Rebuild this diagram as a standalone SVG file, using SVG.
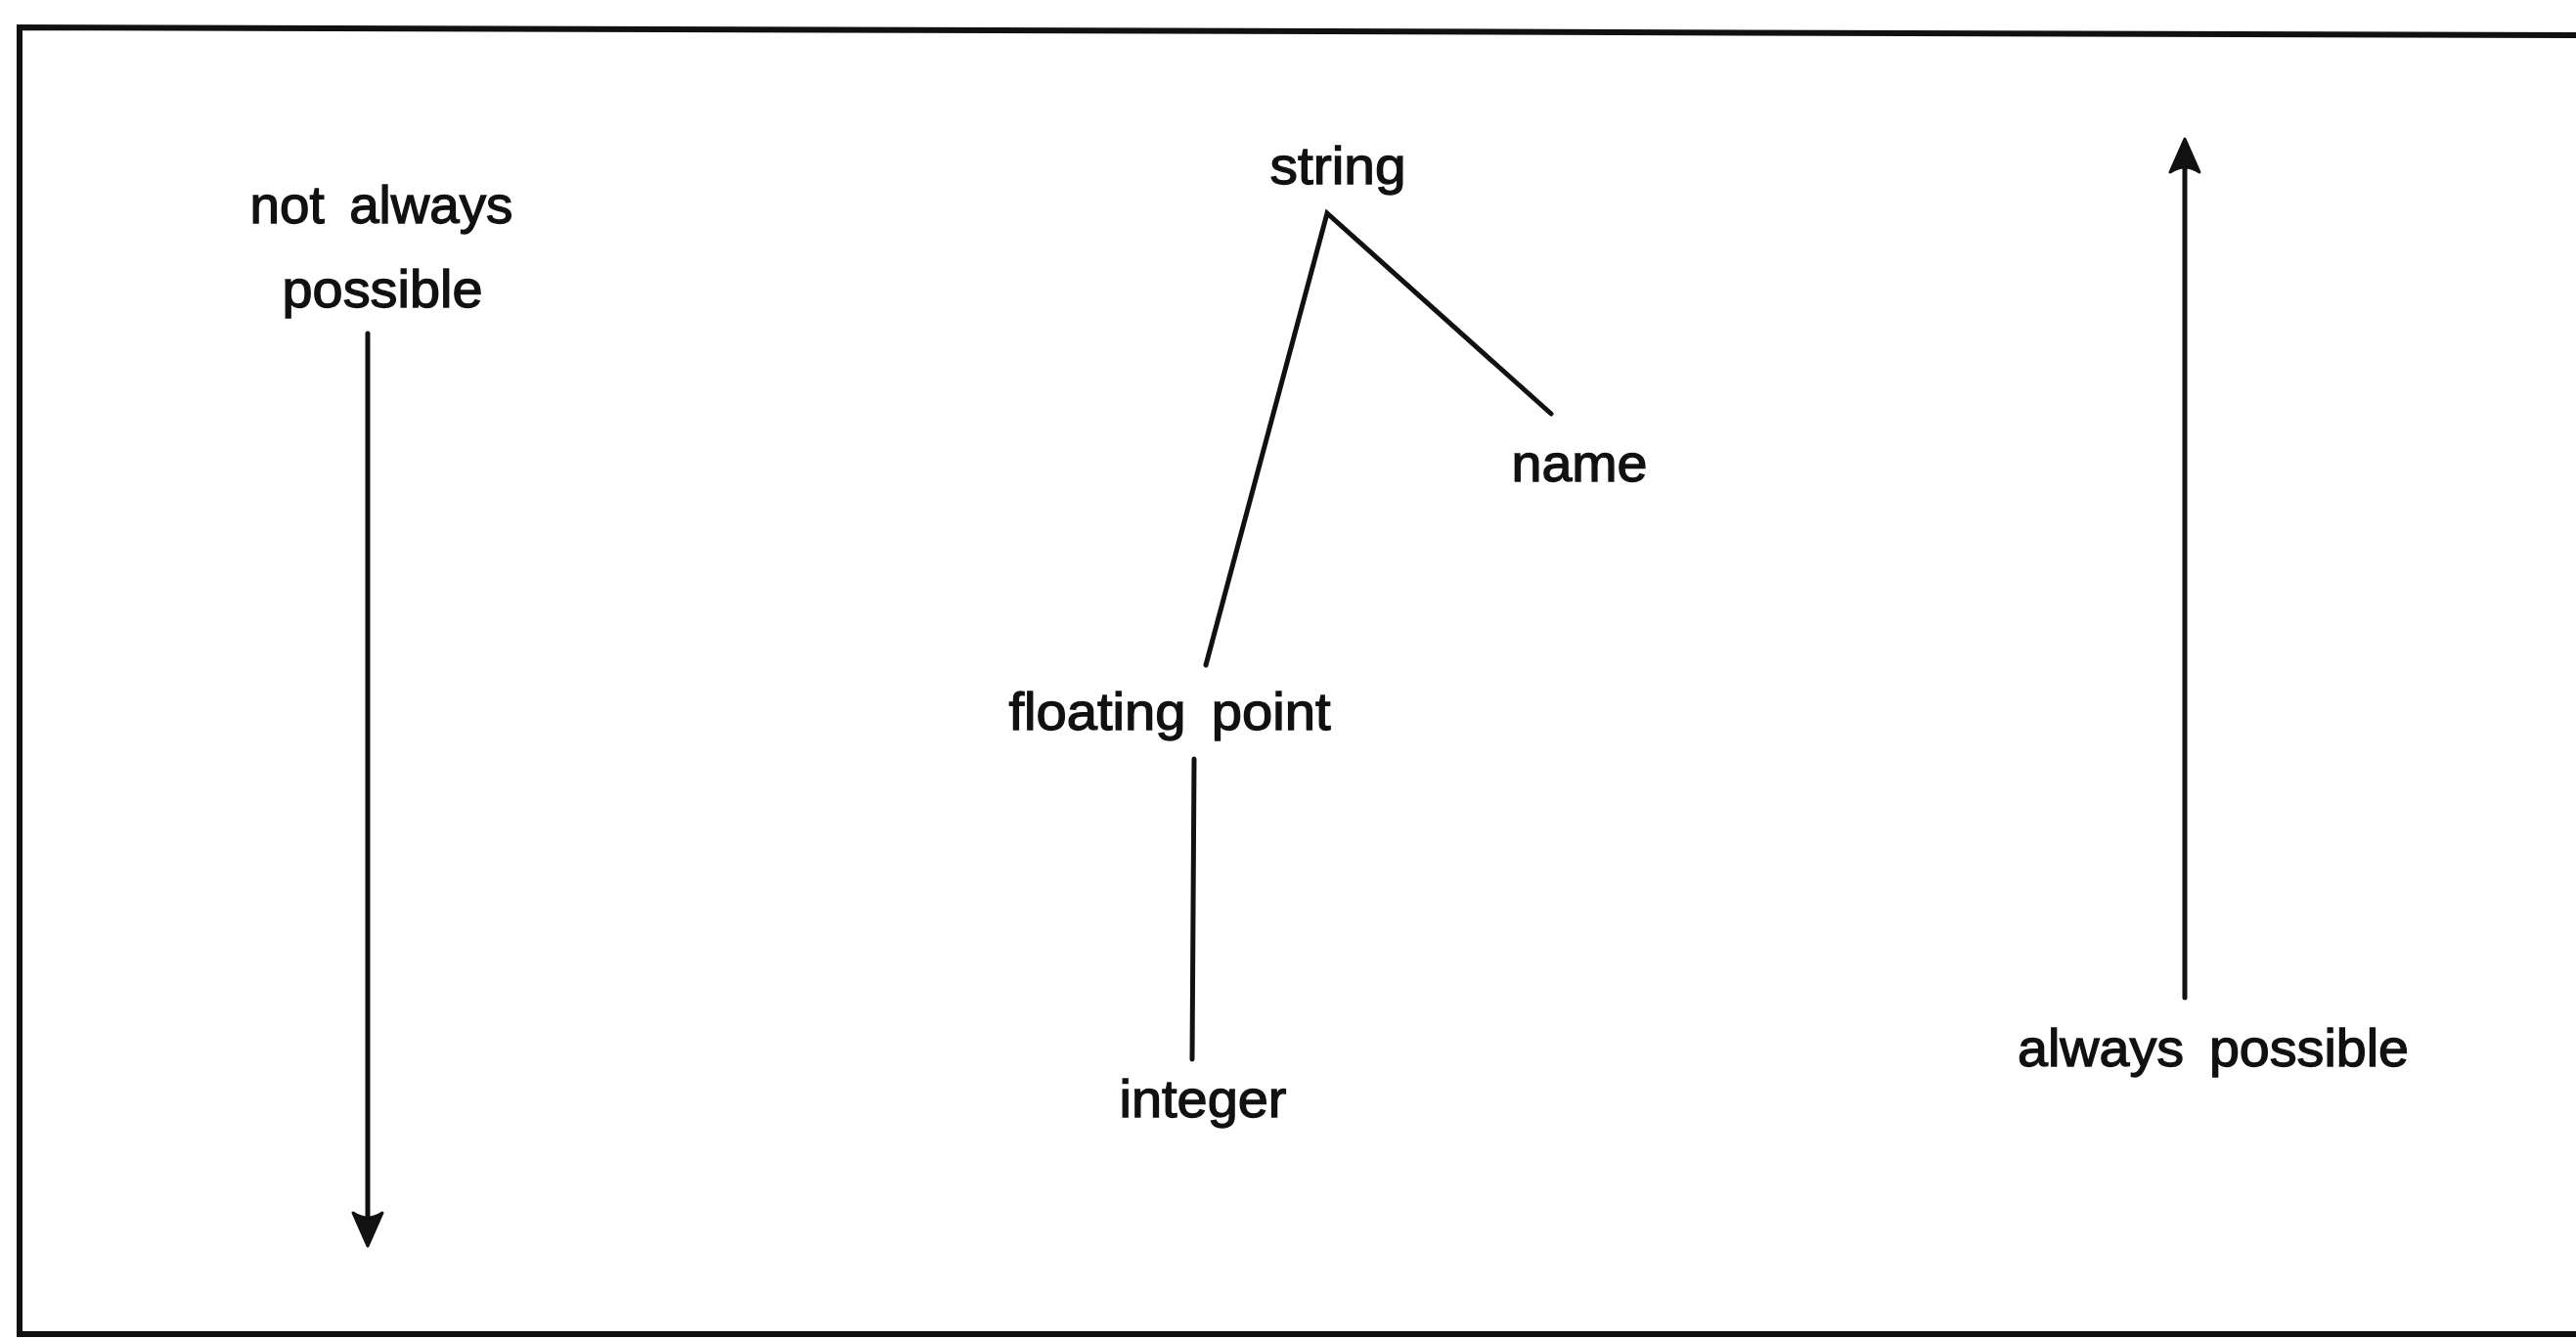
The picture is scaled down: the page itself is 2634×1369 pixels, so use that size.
<svg xmlns="http://www.w3.org/2000/svg" width="2634" height="1369" viewBox="0 0 2634 1369">
<style>
.t{font-family:"Liberation Sans",Arial,Helvetica,sans-serif;font-size:53px;fill:#111;stroke:#111;stroke-width:1.3;text-anchor:middle;word-spacing:10px}
.ln{stroke:#111;stroke-width:5;fill:none;stroke-linecap:round;stroke-linejoin:miter}
.fr{stroke:#111;stroke-width:6;fill:none}
.ah{fill:#111;stroke:#111;stroke-width:3;stroke-linejoin:round}
</style>
<rect width="2634" height="1369" fill="#fff"/>
<g id="frame">
<path class="fr" d="M2634,36 L20,28 L20,1364 L2634,1364"/>
</g>
<g id="connectors">
<line class="ln" x1="376" y1="341" x2="376" y2="1262"/>
<path class="ah" d="M376,1274 L361,1240 Q376,1250 391,1240 Z"/>
<line class="ln" x1="2234" y1="1020" x2="2234" y2="152"/>
<path class="ah" d="M2234,142 L2219,176 Q2234,166 2249,176 Z"/>
<polyline class="ln" points="1233,680 1357,218 1586,423"/>
<line class="ln" x1="1221" y1="776" x2="1219" y2="1083"/>
</g>
<g id="node-not-always"><text class="t" x="390" y="228" textLength="269" lengthAdjust="spacingAndGlyphs">not always</text><text class="t" x="391" y="314" textLength="205" lengthAdjust="spacingAndGlyphs">possible</text></g>
<g id="node-string"><text class="t" x="1368" y="188" textLength="139" lengthAdjust="spacingAndGlyphs">string</text></g>
<g id="node-name"><text class="t" x="1615" y="492" textLength="139" lengthAdjust="spacingAndGlyphs">name</text></g>
<g id="node-floating-point"><text class="t" x="1196" y="746" textLength="329" lengthAdjust="spacingAndGlyphs">floating point</text></g>
<g id="node-integer"><text class="t" x="1230" y="1142" textLength="171" lengthAdjust="spacingAndGlyphs">integer</text></g>
<g id="node-always-possible"><text class="t" x="2263" y="1090" textLength="400" lengthAdjust="spacingAndGlyphs">always possible</text></g>
</svg>
